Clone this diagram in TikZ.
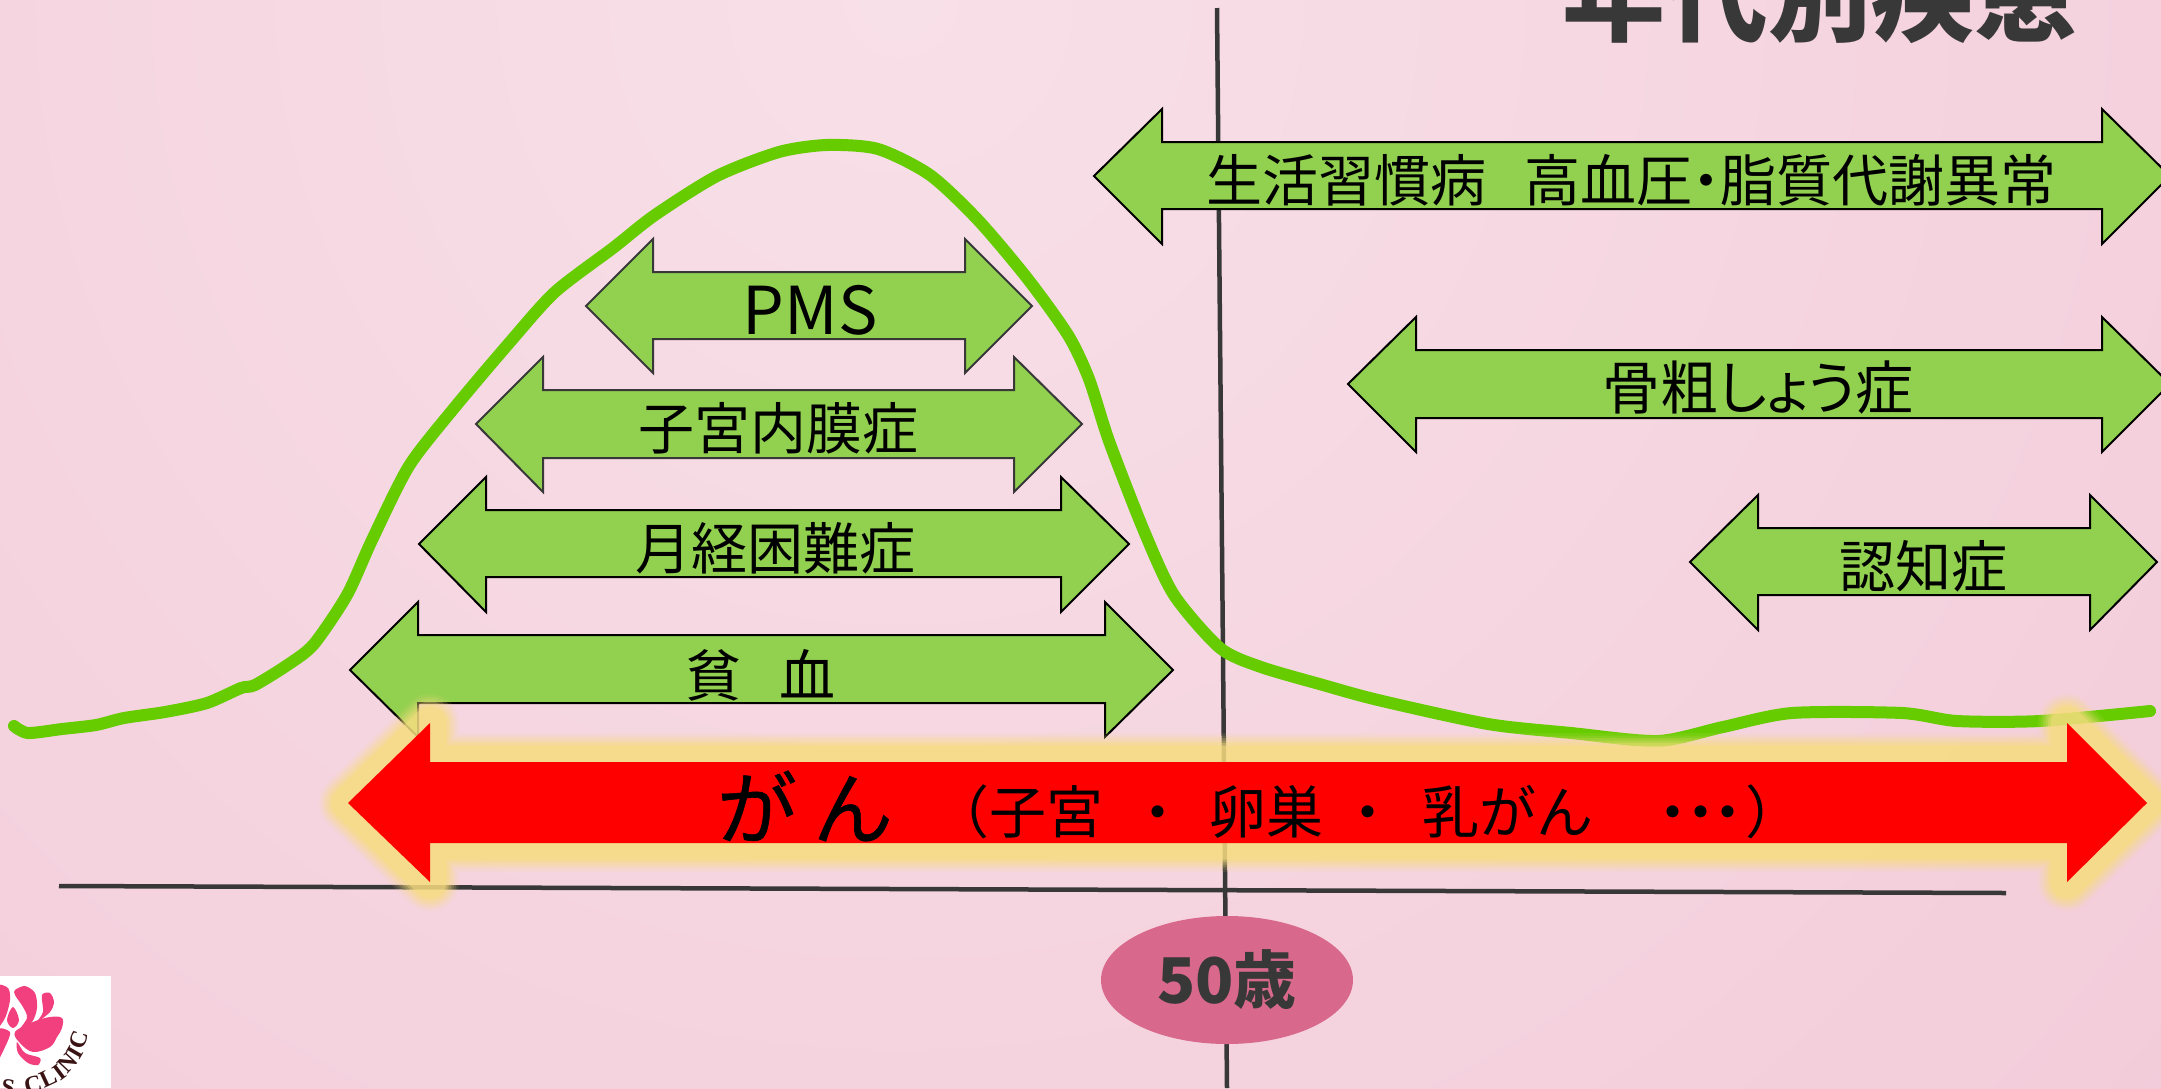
\documentclass[tikz,border=0pt]{standalone}
\usepackage{fontspec}
\usetikzlibrary{shapes.geometric}
\setmainfont{Noto Sans CJK JP}
\newfontfamily\paltfont[RawFeature=+palt]{Noto Sans CJK JP}
\newfontfamily\heavyfont[FakeBold=0.7]{Noto Sans CJK JP}
\newfontfamily\logofont{Liberation Serif}
\definecolor{arrowgreen}{HTML}{92D050}
\definecolor{curvegreen}{HTML}{66CC00}
\definecolor{darkline}{HTML}{383838}
\definecolor{ellipsepink}{HTML}{D9698C}
\definecolor{glowyellow}{HTML}{F7DD80}
\definecolor{logopink}{HTML}{F2407F}
\definecolor{logotext}{HTML}{3A1414}
\definecolor{bginner}{HTML}{F8E0E8}
\definecolor{bgouter}{HTML}{EEBCCE}
\tikzset{
  x=1pt,y=-1pt,
  greenarrow/.style={fill=arrowgreen,draw=black,line width=2pt,line join=miter},
  greenarrowsoft/.style={greenarrow,draw=darkline},
  axisline/.style={draw=darkline,line width=4.5pt},
  label/.style={inner sep=0pt,text=black,font=\fontsize{56}{60}\selectfont},
  petal/.style={fill=logopink,draw=none},
  logoletter/.style={inner sep=0pt,text=logotext,font=\logofont\bfseries\fontsize{24}{26}\selectfont},
}
% #1 left tip, #2 left neck, #3 right neck, #4 right tip, #5 head top, #6 shaft top, #7 centre, #8 shaft bottom, #9 head bottom
\newcommand{\dblarrow}[9]{(#1,#7) -- (#2,#5) -- (#2,#6) -- (#3,#6) -- (#3,#5) -- (#4,#7) -- (#3,#9) -- (#3,#8) -- (#2,#8) -- (#2,#9) -- cycle}
\begin{document}
\begin{tikzpicture}
\useasboundingbox (0,0) rectangle (2161,1088);
\clip (0,0) rectangle (2161,1088);
% background
\shade[inner color=bginner, outer color=bgouter] (900,0) circle (3000);
% title
\node[inner sep=0pt,anchor=base,text=darkline,font=\fontsize{103}{110}\selectfont\bfseries] (title) at (1820,33) {年代別疾患};
% axes
\coordinate (vtop) at (1217,8);
\coordinate (vbot) at (1227,1088);
\coordinate (hl) at (59,886);
\coordinate (hr) at (2006,893);
\draw[axisline] (vtop) -- (vbot);
\draw[axisline] (hl) -- (hr);
% curve
\draw[curvegreen,line width=12pt,line cap=round,line join=round] plot[smooth,tension=0.45] coordinates {
(14,726)(28,733)(62,729)(96,725)(124,718)(165,712)(207,703)(241,688)(255,685)(289,664)(314,644)(347,595)(372,540)(409,466)(455,407)(510,342)(555,292)(613,248)(655,215)(717,176)(779,152)(827,145)(878,149)(930,175)(978,220)(1027,278)(1068,335)(1089,379)(1109,441)(1144,531)(1174,595)(1220,648)(1261,667)(1323,685)(1378,700)(1488,724)(1571,733)(1658,741)(1723,727)(1792,713)(1902,713)(1957,721)(2040,721)(2150,711)};
% green arrows
\draw[greenarrow] \dblarrow{1094}{1162}{2102}{2170}{109}{142}{176}{209}{244};
\draw[greenarrow] \dblarrow{1348}{1416}{2102}{2170}{317}{350}{384}{418}{452};
\draw[greenarrow] \dblarrow{1690}{1758}{2090}{2157}{495}{528}{562}{595}{630};
\draw[greenarrowsoft] \dblarrow{586}{653}{965}{1032}{239}{272}{306}{339}{373};
\draw[greenarrowsoft] \dblarrow{476}{543}{1014}{1082}{357}{390}{424}{458}{492};
\draw[greenarrow] \dblarrow{419}{486}{1061}{1129}{477}{510}{544}{577}{612};
\draw[greenarrow] \dblarrow{350}{418}{1105}{1173}{602}{635}{670}{703}{737};
% glow
\foreach \w/\o in {58/0.1,53/0.15,48/0.2,43/0.25,38/0.35,33/0.5}{
  \draw[glowyellow,line width=\w pt,line join=round,opacity=\o] \dblarrow{348}{430}{2067}{2147}{723}{762}{803}{843}{882};
}
\fill[red] \dblarrow{348}{430}{2067}{2147}{723}{762}{803}{843}{882};
% age marker
\node[ellipse,fill=ellipsepink,minimum width=252pt,minimum height=128pt,inner sep=0pt,text=darkline,font=\fontsize{63}{66}\selectfont\bfseries] (age) at (1227,980) {50歳};
% labels
\node[label] (l1) at (1346,180) {生活習慣病};
\node[label,font=\paltfont\fontsize{56}{60}\selectfont] (l2) at (1790,180) {高血圧・脂質代謝異常};
\node[label,font=\paltfont\fontsize{58}{60}\selectfont] (l3) at (1758,388) {骨粗しょう症};
\node[label] (l4) at (1923,566) {認知症};
\node[label,font=\fontsize{66}{70}\selectfont] (l5) at (810,310) {PMS};
\node[label] (l6) at (778,428) {子宮内膜症};
\node[label] (l7) at (775,548) {月経困難症};
\node[label] (l8) at (761,675) {貧\hspace{0.68em}血};
\node[label,font=\heavyfont\fontsize{80}{84}\selectfont] (l9) at (805,806) {が\hspace{0.2em}ん};
\node[label,anchor=west,font=\fontsize{57}{60}\selectfont] (l10) at (932,812) {（子宮\hspace{0.46em}・\hspace{0.41em}卵巣\hspace{0.27em}・\hspace{0.46em}乳がん\hspace{0.9em}・\hspace{-0.52em}・\hspace{-0.52em}・\hspace{-0.2em}）};
% logo
\fill[white] (0,976) rectangle (111,1088);
\begin{scope}
\clip (0,976) rectangle (111,1088);
\fill[petal] plot[smooth cycle,tension=0.6] coordinates {(15,1032)(33,1022)(50,1017)(62,1018)(62,1028)(57,1037)(50,1047)(33,1052)(20,1043)};
\fill[petal] plot[smooth cycle,tension=0.5] coordinates {(37,1022)(43,1012)(42,995)(50,993)(54,1002)(50,1012)};
\fill[petal] plot[smooth cycle,tension=0.5] coordinates {(15,990)(25,986)(35,993)(37,1008)(32,1022)(18,1032)(27,1018)(23,1007)(15,995)};
\fill[petal] plot[smooth cycle,tension=0.6] coordinates {(13,1007)(19,1020)(13,1028)(7,1020)};
\fill[petal] plot[smooth cycle,tension=0.5] coordinates {(17,1042)(25,1053)(40,1058)(38,1065)(28,1063)(18,1053)};
\fill[petal] plot[smooth cycle,tension=0.5] coordinates {(-4,987)(8,988)(10,1000)(5,1018)(-4,1027)};
\fill[petal] plot[smooth cycle,tension=0.5] coordinates {(-4,1030)(10,1032)(5,1047)(-4,1062)};
\node[logoletter,rotate=-8] (ls) at (8,1088) {S};
\node[logoletter,rotate=15] (lc1) at (33,1085) {C};
\node[logoletter,rotate=25] (ll) at (48,1078) {L};
\node[logoletter,rotate=37] (li1) at (60,1072) {I};
\node[logoletter,rotate=47] (ln) at (68,1063) {N};
\node[logoletter,rotate=60] (li2) at (75,1053) {I};
\node[logoletter,rotate=72] (lc2) at (79,1040) {C};
\end{scope}
\end{tikzpicture}
\end{document}
